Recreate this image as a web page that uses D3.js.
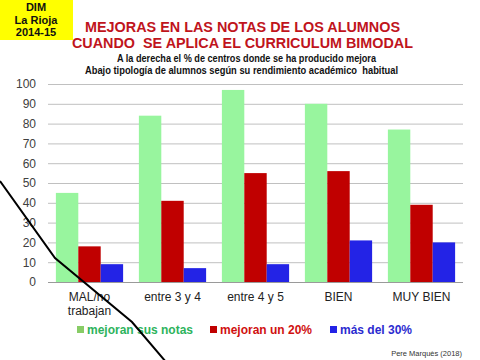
<!DOCTYPE html>
<html><head><meta charset="utf-8">
<script src="https://cdn.jsdelivr.net/npm/d3@7"></script>
<style>body{margin:0;background:#fff}svg{display:block}text{font-family:Arial,"Liberation Sans",sans-serif}</style>
</head><body>
<svg id="c" width="480" height="360"></svg>
<script>
const categories = ["MAL/no trabajan", "entre 3 y 4", "entre 4 y 5", "BIEN", "MUY BIEN"];
const seriesNames = ["mejoran sus notas", "mejoran un 20%", "más del 30%"];
const mejoranNotas = [45, 84, 97, 90, 77];
const mejoran20 = [18, 41, 55, 56, 39];
const mas30 = [9, 7, 9, 21, 20];
const yTicks = [0, 10, 20, 30, 40, 50, 60, 70, 80, 90, 100];
const decoLine = [[0, 181], [55, 258], [132, 322], [166, 362]];

const series = [mejoranNotas, mejoran20, mas30];
const colors = ["#98f59e", "#c00000", "#2323e6"];
const textColors = ["#2db35c", "#d01010", "#2b2bd0"];

const svg = d3.select("#c");
const pLeft = 48, pRight = 463, pTop = 84, pBottom = 282;

// yellow box
svg.append("rect").attr("x", 0).attr("y", 0).attr("width", 73).attr("height", 40).attr("fill", "#ffff00");
["DIM", "La Rioja", "2014-15"].forEach((t, i) => {
  svg.append("text").attr("x", 36).attr("y", 11 + i * 12.5).attr("text-anchor", "middle")
    .attr("font-size", 11).attr("font-weight", "bold").attr("fill", "#111").text(t);
});

// titles
const titleLines = [
  {t: "MEJORAS EN LAS NOTAS DE LOS ALUMNOS", x: 85, w: 315, y: 32},
  {t: "CUANDO  SE APLICA EL CURRICULUM BIMODAL", x: 72, w: 341, y: 48}
];
titleLines.forEach(d => {
  svg.append("text").attr("x", d.x).attr("y", d.y)
    .attr("font-size", 14).attr("font-weight", "bold").attr("fill", "#c0141c")
    .attr("textLength", d.w).attr("lengthAdjust", "spacingAndGlyphs")
    .style("white-space", "pre").text(d.t);
});
const subLines = [
  {t: "A la derecha el % de centros donde se ha producido mejora", x: 117, w: 259, y: 61.5},
  {t: "Abajo tipología de alumnos según su rendimiento académico  habitual", x: 85, w: 313, y: 74}
];
subLines.forEach(d => {
  svg.append("text").attr("x", d.x).attr("y", d.y)
    .attr("font-size", 10).attr("font-weight", "bold").attr("fill", "#111")
    .attr("textLength", d.w).attr("lengthAdjust", "spacingAndGlyphs")
    .style("white-space", "pre").text(d.t);
});

const x0 = d3.scaleBand().domain(categories).range([pLeft, pRight]).paddingInner(0.19).paddingOuter(0.095);
const x1 = d3.scaleBand().domain([0, 1, 2]).range([0, x0.bandwidth()]);
const y = d3.scaleLinear().domain([0, 100]).range([pBottom, pTop]);

// grid
svg.append("g").selectAll("line").data(yTicks).join("line")
  .attr("x1", pLeft).attr("x2", pRight).attr("y1", d => y(d) + 0.5).attr("y2", d => y(d) + 0.5)
  .attr("stroke", d => d === 0 ? "#9a9a9a" : "#c0c0c0").attr("stroke-width", 1);

const yAxis = d3.axisLeft(y).tickValues(yTicks).tickSize(0).tickPadding(12);
const ya = svg.append("g").attr("transform", `translate(${pLeft},0)`).call(yAxis);
ya.select(".domain").remove();
ya.selectAll("text").attr("font-size", 12).attr("fill", "#404040").attr("font-family", "Arial,'Liberation Sans',sans-serif");

// bars
series.forEach((s, si) => {
  svg.append("g").selectAll("rect").data(s).join("rect")
    .attr("x", (d, i) => x0(categories[i]) + x1(si))
    .attr("width", x1.bandwidth())
    .attr("y", d => y(d))
    .attr("height", d => y(0) - y(d))
    .attr("fill", colors[si]);
});

// x labels
categories.forEach(c => {
  const parts = c === "MAL/no trabajan" ? ["MAL/no", "trabajan"] : [c];
  parts.forEach((p, j) => {
    svg.append("text").attr("x", x0(c) + x0.bandwidth() / 2).attr("y", 301 + j * 14)
      .attr("text-anchor", "middle").attr("font-size", 12).attr("fill", "#222").text(p);
  });
});

// legend
const legX = [77, 210, 330];
seriesNames.forEach((n, i) => {
  svg.append("rect").attr("x", legX[i]).attr("y", 326).attr("width", 7).attr("height", 7)
    .attr("fill", i === 0 ? "#88cc66" : colors[i]);
  svg.append("text").attr("x", legX[i] + 10).attr("y", 334).attr("font-size", 12)
    .attr("font-weight", "bold").attr("fill", textColors[i]).text(n);
});

// source
svg.append("text").attr("x", 462).attr("y", 356).attr("text-anchor", "end")
  .attr("font-size", 7.5).attr("fill", "#333").text("Pere Marquès (2018)");

// decorative line
svg.append("path").attr("d", d3.line()(decoLine)).attr("fill", "none")
  .attr("stroke", "#000").attr("stroke-width", 2);
</script>
</body></html>
